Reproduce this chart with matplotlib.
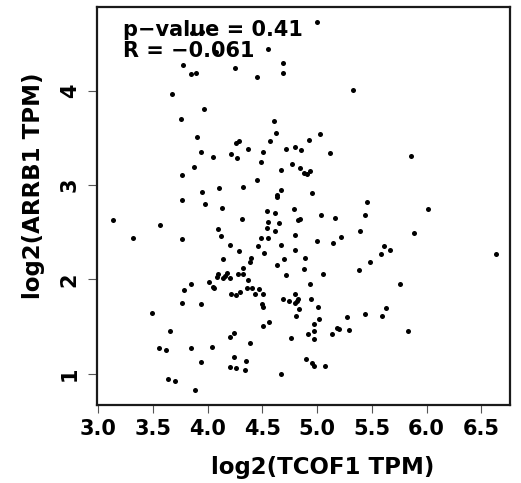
import matplotlib
matplotlib.use("Agg")
import matplotlib.pyplot as plt

# log2(TCOF1 TPM)
tcof1 = [3.854, 3.945, 4.080, 4.996, 4.547, 3.774, 3.845, 3.896, 4.251, 4.686,
         4.686, 4.451, 5.331, 3.676, 3.966, 3.756, 4.603, 3.902, 4.622, 5.024,
         4.257, 4.286, 4.572, 4.923, 3.942, 4.051, 4.210, 4.265, 4.364, 4.505,
         4.714, 4.801, 4.857, 5.115, 5.858, 3.879, 4.490, 4.766, 4.667, 4.842,
         4.882, 4.912, 4.931, 3.768, 4.446, 3.951, 4.106, 4.323, 4.670, 4.629,
         4.635, 4.956, 5.452, 3.762, 3.975, 4.133, 4.792, 4.545, 6.018, 4.615,
         4.316, 4.548, 4.649, 4.542, 4.825, 4.846, 5.038, 5.164, 5.441, 4.612,
         4.484, 4.554, 4.795, 5.389, 5.218, 4.996, 5.148, 4.283, 4.460, 4.673,
         4.517, 4.801, 4.396, 4.387, 4.700, 4.887, 4.636, 4.883, 4.323, 4.277,
         4.320, 4.713, 5.051, 5.383, 5.486, 4.368, 4.938, 4.362, 4.402, 4.469,
         4.295, 4.257, 4.430, 4.508, 4.798, 4.686, 4.746, 4.801, 4.814, 4.823,
         4.944, 4.494, 4.503, 4.832, 5.008, 4.810, 5.273, 5.438, 5.017, 4.558,
         4.503, 4.969, 4.914, 4.969, 4.974, 5.136, 5.179, 5.197, 5.294, 4.240,
         4.764, 4.384, 4.240, 4.353, 4.261, 4.341, 4.896, 4.951, 4.974, 5.069,
         4.667, 5.888, 5.609, 5.669, 5.580, 6.633, 5.758, 5.627, 5.593, 5.835,
         3.132, 3.567, 3.320, 3.768, 4.094, 4.124, 4.201, 4.143, 4.091, 4.082,
         4.174, 4.161, 4.137, 4.201, 4.015, 3.850, 3.783, 4.051, 4.062, 4.210,
         3.762, 3.939, 3.494, 3.658, 4.207, 3.552, 3.619, 3.845, 4.042, 3.939,
         4.204, 3.640, 3.704, 3.884]

# log2(ARRB1 TPM)
arrb1 = [4.607, 4.626, 4.410, 4.725, 4.442, 4.273, 4.174, 4.185, 4.244, 4.291,
         4.185, 4.142, 4.004, 3.962, 3.809, 3.700, 3.679, 3.512, 3.552, 3.544,
         3.446, 3.462, 3.467, 3.481, 3.350, 3.297, 3.326, 3.283, 3.382, 3.350,
         3.385, 3.403, 3.375, 3.337, 3.308, 3.191, 3.244, 3.218, 3.159, 3.177,
         3.126, 3.114, 3.152, 3.110, 3.053, 2.926, 2.972, 2.981, 2.952, 2.891,
         2.868, 2.912, 2.817, 2.838, 2.800, 2.751, 2.741, 2.723, 2.746, 2.704,
         2.640, 2.611, 2.601, 2.548, 2.633, 2.640, 2.686, 2.651, 2.682, 2.510,
         2.439, 2.435, 2.467, 2.510, 2.446, 2.407, 2.386, 2.301, 2.354, 2.364,
         2.280, 2.308, 2.223, 2.181, 2.216, 2.230, 2.149, 2.110, 2.121, 2.057,
         2.057, 2.043, 2.054, 2.103, 2.184, 1.997, 1.954, 1.909, 1.909, 1.895,
         1.863, 1.834, 1.845, 1.848, 1.842, 1.789, 1.771, 1.753, 1.774, 1.792,
         1.789, 1.742, 1.710, 1.689, 1.707, 1.615, 1.604, 1.633, 1.583, 1.548,
         1.506, 1.524, 1.424, 1.456, 1.368, 1.424, 1.484, 1.477, 1.463, 1.435,
         1.378, 1.325, 1.177, 1.131, 1.064, 1.042, 1.153, 1.117, 1.085, 1.078,
         0.994, 2.492, 2.351, 2.311, 2.266, 2.266, 1.954, 1.693, 1.615, 1.453,
         2.629, 2.576, 2.435, 2.425, 2.534, 2.460, 2.364, 2.216, 2.057, 2.028,
         2.064, 2.039, 2.018, 2.015, 1.975, 1.948, 1.887, 1.916, 1.905, 1.845,
         1.750, 1.739, 1.647, 1.449, 1.386, 1.269, 1.251, 1.269, 1.280, 1.124,
         1.071, 0.947, 0.919, 0.824]

x_ticks = [3.0, 3.5, 4.0, 4.5, 5.0, 5.5, 6.0, 6.5]
x_tick_labels = ["3.0", "3.5", "4.0", "4.5", "5.0", "5.5", "6.0", "6.5"]
y_ticks = [1, 2, 3, 4]
y_tick_labels = ["1", "2", "3", "4"]
stat_lines = ["p\u2212value = 0.41", "R = \u22120.061"]
x_title = "log2(TCOF1 TPM)"
y_title = "log2(ARRB1 TPM)"

plt.rcParams['font.family'] = ['DejaVu Sans']
plt.rcParams['font.weight'] = 'bold'

fig = plt.figure(figsize=(5.21, 4.83), dpi=100)
ax = fig.add_axes([97/521, 78/483, 413/521, 398/483])

ax.scatter(tcof1, arrb1, s=13, c='black', linewidths=0, zorder=2)

ax.set_xlim(2.988, 6.763)
ax.set_ylim(0.668, 4.887)
ax.set_xticks(x_ticks)
ax.set_xticklabels(x_tick_labels, fontsize=15, fontweight='bold')
ax.set_yticks(y_ticks)
ax.set_yticklabels(y_tick_labels, fontsize=15, fontweight='bold',
                   rotation=90, va='center')

ax.tick_params(axis='x', length=5.8, width=0.8, color='#555555', pad=4)
ax.tick_params(axis='y', length=6.5, width=0.8, color='#555555', pad=6)

for sp in ax.spines.values():
    sp.set_linewidth(1.6)
    sp.set_color('#1a1a1a')

ax.set_xlabel(x_title, fontsize=16.5, fontweight='bold')
ax.set_ylabel(y_title, fontsize=16.5, fontweight='bold')
ax.xaxis.set_label_coords(0.547, -0.128)
ax.yaxis.set_label_coords(-0.125, 0.55)

ax.text(0.063, 0.927, stat_lines[0], transform=ax.transAxes, fontsize=15,
        fontweight='bold', va='baseline', ha='left', zorder=3)
ax.text(0.063, 0.874, stat_lines[1], transform=ax.transAxes, fontsize=15,
        fontweight='bold', va='baseline', ha='left', zorder=3)

fig.savefig("out.png", dpi=100)
